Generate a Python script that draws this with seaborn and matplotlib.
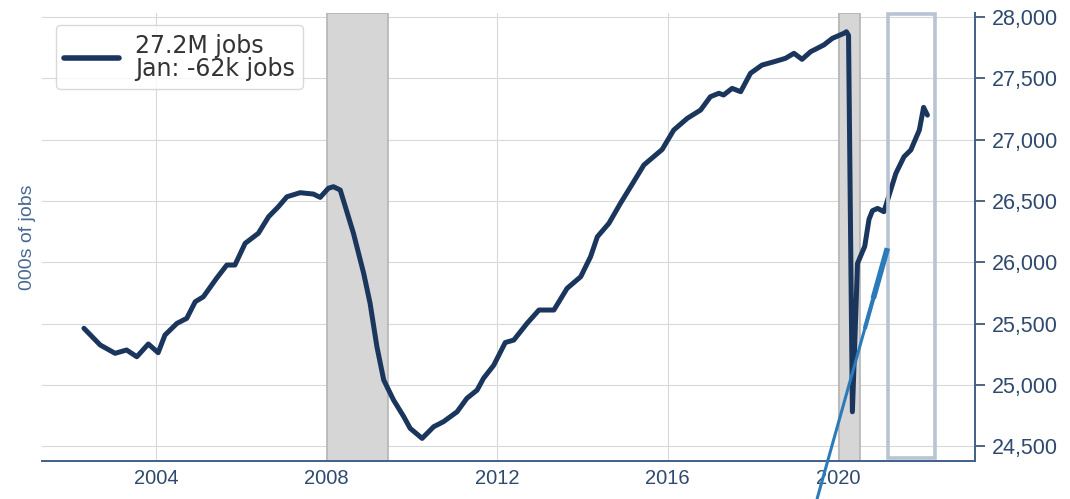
import matplotlib.pyplot as plt
import matplotlib.transforms as mtransforms
from matplotlib.patches import Rectangle
import seaborn as sns

# Data (decimal years / thousands of jobs)
years = [2002.31, 2002.69, 2003.04, 2003.31, 2003.55, 2003.82, 2004.05, 2004.21, 2004.49,
         2004.72, 2004.92, 2005.11, 2005.42, 2005.66, 2005.85, 2006.09, 2006.40, 2006.64,
         2006.87, 2007.07, 2007.38, 2007.69, 2007.85, 2008.04, 2008.16, 2008.32, 2008.63,
         2008.87, 2009.02, 2009.18, 2009.34, 2009.57, 2009.81, 2009.96, 2010.24, 2010.51,
         2010.74, 2011.06, 2011.29, 2011.53, 2011.68, 2011.92, 2012.19, 2012.39, 2012.70,
         2012.98, 2013.33, 2013.64, 2013.96, 2014.19, 2014.35, 2014.62, 2014.89, 2015.13,
         2015.44, 2015.87, 2016.14, 2016.46, 2016.77, 2017.00, 2017.20, 2017.31, 2017.51,
         2017.71, 2017.94, 2018.21, 2018.49, 2018.76, 2018.96, 2019.15, 2019.35, 2019.66,
         2019.86, 2020.13, 2020.19, 2020.24, 2020.33, 2020.45, 2020.62, 2020.72, 2020.80,
         2020.92, 2021.07, 2021.35, 2021.54, 2021.70, 2021.90, 2022.00, 2022.09]
jobs = [25461, 25325, 25257, 25284, 25229, 25333, 25262, 25406, 25501,
        25542, 25678, 25718, 25869, 25977, 25977, 26154, 26236, 26371,
        26453, 26534, 26567, 26556, 26529, 26603, 26616, 26589, 26236,
        25909, 25665, 25311, 25039, 24876, 24740, 24645, 24563, 24658,
        24699, 24780, 24890, 24957, 25053, 25160, 25345, 25365, 25501,
        25610, 25610, 25787, 25882, 26045, 26208, 26317, 26480, 26616,
        26793, 26920, 27078, 27174, 27241, 27350, 27378, 27364, 27418,
        27391, 27541, 27608, 27635, 27663, 27704, 27655, 27717, 27772,
        27826, 27867, 27880, 27850, 24780, 25990, 26130, 26350, 26420,
        26439, 26412, 26725, 26860, 26915, 27078, 27263, 27200]

recessions = [(2008.0, 2009.45), (2020.02, 2020.51)]
highlight = (2021.16, 2022.26)
legend_label = "27.2M jobs\nJan: -62k jobs"

navy = '#1b365d'
slate = '#3f5f8a'

sns.set_style('whitegrid', {'grid.color': '#d9d9d9'})
plt.rcParams['font.family'] = ['Liberation Sans', 'DejaVu Sans']

fig, ax = plt.subplots(figsize=(10.7, 4.99), dpi=100)
fig.subplots_adjust(left=0.039, right=0.911, top=0.974, bottom=0.076)

for start, end in recessions:
    ax.axvspan(start, end, facecolor='#d6d6d6', edgecolor='#b5b5b5', lw=1.2, zorder=1)

sns.lineplot(x=years, y=jobs, ax=ax, color=navy, lw=3.6, label=legend_label, zorder=3)
ax.lines[0].set_solid_joinstyle('round')
ax.lines[0].set_solid_capstyle('round')

ax.set_xlim(2001.32, 2023.2)
ax.set_ylim(24378, 28033)

# highlight box around the latest year
trans = mtransforms.blended_transform_factory(ax.transData, ax.transAxes)
ax.add_patch(Rectangle((highlight[0], 0.006), highlight[1] - highlight[0], 0.992,
                       transform=trans, fill=False, edgecolor='#b8c3d3', lw=2.6,
                       clip_on=False, zorder=4))

# pointer from below the axis up into the box, thicker near its tip
ax.plot([2019.5, 2021.15], [-0.085, 0.475], transform=trans, color='#2b7bba',
        lw=2.2, clip_on=False, zorder=5, solid_capstyle='butt')
ax.plot([2020.82, 2021.15], [0.363, 0.475], transform=trans, color='#2b7bba',
        lw=4.0, clip_on=False, zorder=5, solid_capstyle='butt')
ax.plot([2020.62, 2020.82], [0.295, 0.363], transform=trans, color='#2b7bba',
        lw=3.0, clip_on=False, zorder=5, solid_capstyle='butt')

ax.set_xticks([2004, 2008, 2012, 2016, 2020])
ax.set_yticks([24500, 25000, 25500, 26000, 26500, 27000, 27500, 28000])
ax.yaxis.set_major_formatter(plt.FuncFormatter(lambda v, p: f'{int(v):,}'))
ax.yaxis.tick_right()
ax.yaxis.set_label_position('left')
ax.set_ylabel('000s of jobs', fontsize=14, color='#4a6890', labelpad=4)

ax.tick_params(axis='x', labelsize=14.5, colors='#2f4a6e', length=0, pad=6)
ax.tick_params(axis='y', labelsize=15.5, colors='#2f4a6e', length=7, width=1.2,
               direction='out', pad=5, right=True, left=False)

for side in ['top', 'left']:
    ax.spines[side].set_visible(False)
for side in ['bottom', 'right']:
    ax.spines[side].set_color(slate)
    ax.spines[side].set_linewidth(1.4)

leg = ax.legend(loc='upper left', bbox_to_anchor=(0.015, 0.973), borderaxespad=0,
                prop={'family': 'DejaVu Sans', 'size': 17}, handlelength=2.3,
                handletextpad=0.7, frameon=True, fancybox=True, borderpad=0.36)
leg.get_frame().set_edgecolor('#d0d0d0')
for line in leg.get_lines():
    line.set_linewidth(4)
for txt in leg.get_texts():
    txt.set_linespacing(0.95)
    txt.set_color('#333333')

plt.savefig('out.png', dpi=100)
